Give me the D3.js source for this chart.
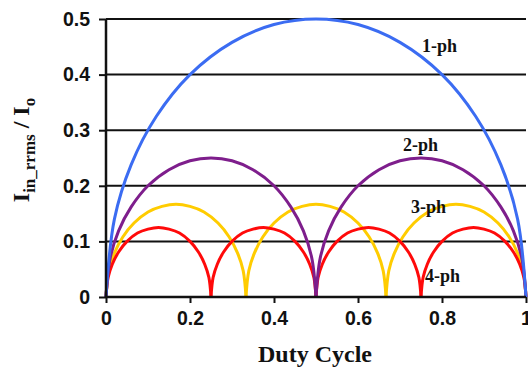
<!DOCTYPE html>
<html><head><meta charset="utf-8">
<script src="https://cdn.jsdelivr.net/npm/d3@7"></script>
<style>html,body{margin:0;padding:0;background:#fff;}svg{display:block;}</style>
</head><body>
<script>
// ---- data ----
const xTicks = [0, 0.2, 0.4, 0.6, 0.8, 1];
const xTickLabels = ["0", "0.2", "0.4", "0.6", "0.8", "1"];
const yTicks = [0, 0.1, 0.2, 0.3, 0.4, 0.5];
const yTickLabels = ["0", "0.1", "0.2", "0.3", "0.4", "0.5"];
const seriesNames = ["1-ph", "2-ph", "3-ph", "4-ph"];

const duty1 = [0,.02,.06,.12,.2,.3,.4,.5,.6,.7,.8,.88,.94,.98,1];
const ph1   = [0,.140,.238,.325,.400,.458,.490,.500,.490,.458,.400,.325,.238,.140,0];

const duty2 = [0,.01,.03,.06,.1,.15,.2,.25,.3,.35,.4,.44,.47,.49,.5,
               .51,.53,.56,.6,.65,.7,.75,.8,.85,.9,.94,.97,.99,1];
const ph2   = [0,.070,.119,.162,.200,.229,.245,.250,.245,.229,.200,.162,.119,.070,0,
               .070,.119,.162,.200,.229,.245,.250,.245,.229,.200,.162,.119,.070,0];

const duty3 = [0,.0067,.02,.04,.0667,.1,.1333,.1667,.2,.2333,.2667,.2933,.3133,.3267,.3333,
               .34,.3533,.3733,.4,.4333,.4667,.5,.5333,.5667,.6,.6267,.6467,.66,.6667,
               .6733,.6867,.7067,.7333,.7667,.8,.8333,.8667,.9,.9333,.96,.98,.9933,1];
const ph3   = [0,.047,.079,.108,.133,.153,.163,.167,.163,.153,.133,.108,.079,.047,0,
               .047,.079,.108,.133,.153,.163,.167,.163,.153,.133,.108,.079,.047,0,
               .047,.079,.108,.133,.153,.163,.167,.163,.153,.133,.108,.079,.047,0];

const duty4 = [0,.005,.015,.03,.05,.075,.1,.125,.15,.175,.2,.22,.235,.245,.25,
               .255,.265,.28,.3,.325,.35,.375,.4,.425,.45,.47,.485,.495,.5,
               .505,.515,.53,.55,.575,.6,.625,.65,.675,.7,.72,.735,.745,.75,
               .755,.765,.78,.8,.825,.85,.875,.9,.925,.95,.97,.985,.995,1];
const ph4   = [0,.035,.059,.081,.100,.115,.122,.125,.122,.115,.100,.081,.059,.035,0,
               .035,.059,.081,.100,.115,.122,.125,.122,.115,.100,.081,.059,.035,0,
               .035,.059,.081,.100,.115,.122,.125,.122,.115,.100,.081,.059,.035,0,
               .035,.059,.081,.100,.115,.122,.125,.122,.115,.100,.081,.059,.035,0];

// ---- drawing ----
const W = 528, H = 367;
const svg = d3.select("body").append("svg").attr("width", W).attr("height", H);
const x = d3.scaleLinear().domain([0, 1]).range([106, 526]);
const y = d3.scaleLinear().domain([0, 0.5]).range([297, 19]);

const series = [
  {name: seriesNames[2], d: duty3, v: ph3, color: "#ffcc00"},
  {name: seriesNames[3], d: duty4, v: ph4, color: "#ff0a0a"},
  {name: seriesNames[1], d: duty2, v: ph2, color: "#7e1e8c"},
  {name: seriesNames[0], d: duty1, v: ph1, color: "#3b6cf2"}
];

// gridlines
svg.append("g").selectAll("line").data(yTicks.filter(t => t > 0)).join("line")
  .attr("x1", x(0)).attr("x2", x(1))
  .attr("y1", d => y(d)).attr("y2", d => y(d))
  .attr("stroke", "#111").attr("stroke-width", 2);

// curves: split into arches at zero values
const line = d3.line().x(p => x(p[0])).y(p => y(p[1])).curve(d3.curveCatmullRom.alpha(0.5));
series.forEach(s => {
  const arches = [];
  let cur = [];
  s.d.forEach((dv, i) => {
    cur.push([dv, s.v[i]]);
    if (s.v[i] === 0 && cur.length > 1) { arches.push(cur); cur = [[dv, 0]]; }
  });
  svg.append("g").selectAll("path").data(arches).join("path")
    .attr("d", line).attr("fill", "none")
    .attr("stroke", s.color).attr("stroke-width", 3);
});

// axes
const yAxis = d3.axisLeft(y).tickValues(yTicks).tickFormat((d, i) => yTickLabels[i]).tickSize(7).tickPadding(9);
const gy = svg.append("g").attr("transform", `translate(${x(0)},0)`).call(yAxis);
const xAxis = d3.axisBottom(x).tickValues(xTicks).tickFormat((d, i) => xTickLabels[i]).tickSize(6).tickPadding(8);
const gx = svg.append("g").attr("transform", `translate(0,${y(0)})`).call(xAxis);
[gx, gy].forEach(g => {
  g.select(".domain").attr("stroke", "#111").attr("stroke-width", 2.5);
  g.selectAll(".tick line").attr("stroke", "#111").attr("stroke-width", 2);
  g.selectAll(".tick text").attr("fill", "#111")
    .style("font-family", "'Liberation Sans', Arial, sans-serif")
    .style("font-weight", "bold").style("font-size", "19.5px");
});
gy.select(".domain").attr("d", `M0,${y(0.5)}V${y(0)}`);
gx.select(".domain").attr("d", `M${x(0)},0H${x(1)}`);

// series labels
const labelPos = [[422, 52], [403, 151], [411, 213], [425, 282]];
svg.append("g").selectAll("text").data(seriesNames).join("text")
  .attr("x", (d, i) => labelPos[i][0]).attr("y", (d, i) => labelPos[i][1])
  .text(d => d)
  .style("font-family", "'Liberation Serif', 'Times New Roman', serif")
  .style("font-weight", "bold").style("font-size", "18px").attr("fill", "#111");

// axis titles
svg.append("text").attr("x", 315).attr("y", 362).attr("text-anchor", "middle")
  .text("Duty Cycle")
  .style("font-family", "'Liberation Serif', 'Times New Roman', serif")
  .style("font-weight", "bold").style("font-size", "24px").attr("fill", "#111");

const yt = svg.append("text").attr("transform", "translate(29,150) rotate(-90)")
  .attr("text-anchor", "middle")
  .style("font-family", "'Liberation Serif', 'Times New Roman', serif")
  .style("font-weight", "bold").style("font-size", "24px").attr("fill", "#111");
yt.append("tspan").text("I");
yt.append("tspan").attr("dy", 6).style("font-size", "17px").text("in_rrms");
yt.append("tspan").attr("dy", -6).text(" / I");
yt.append("tspan").attr("dy", 6).style("font-size", "17px").text("o");
</script>
</body></html>
